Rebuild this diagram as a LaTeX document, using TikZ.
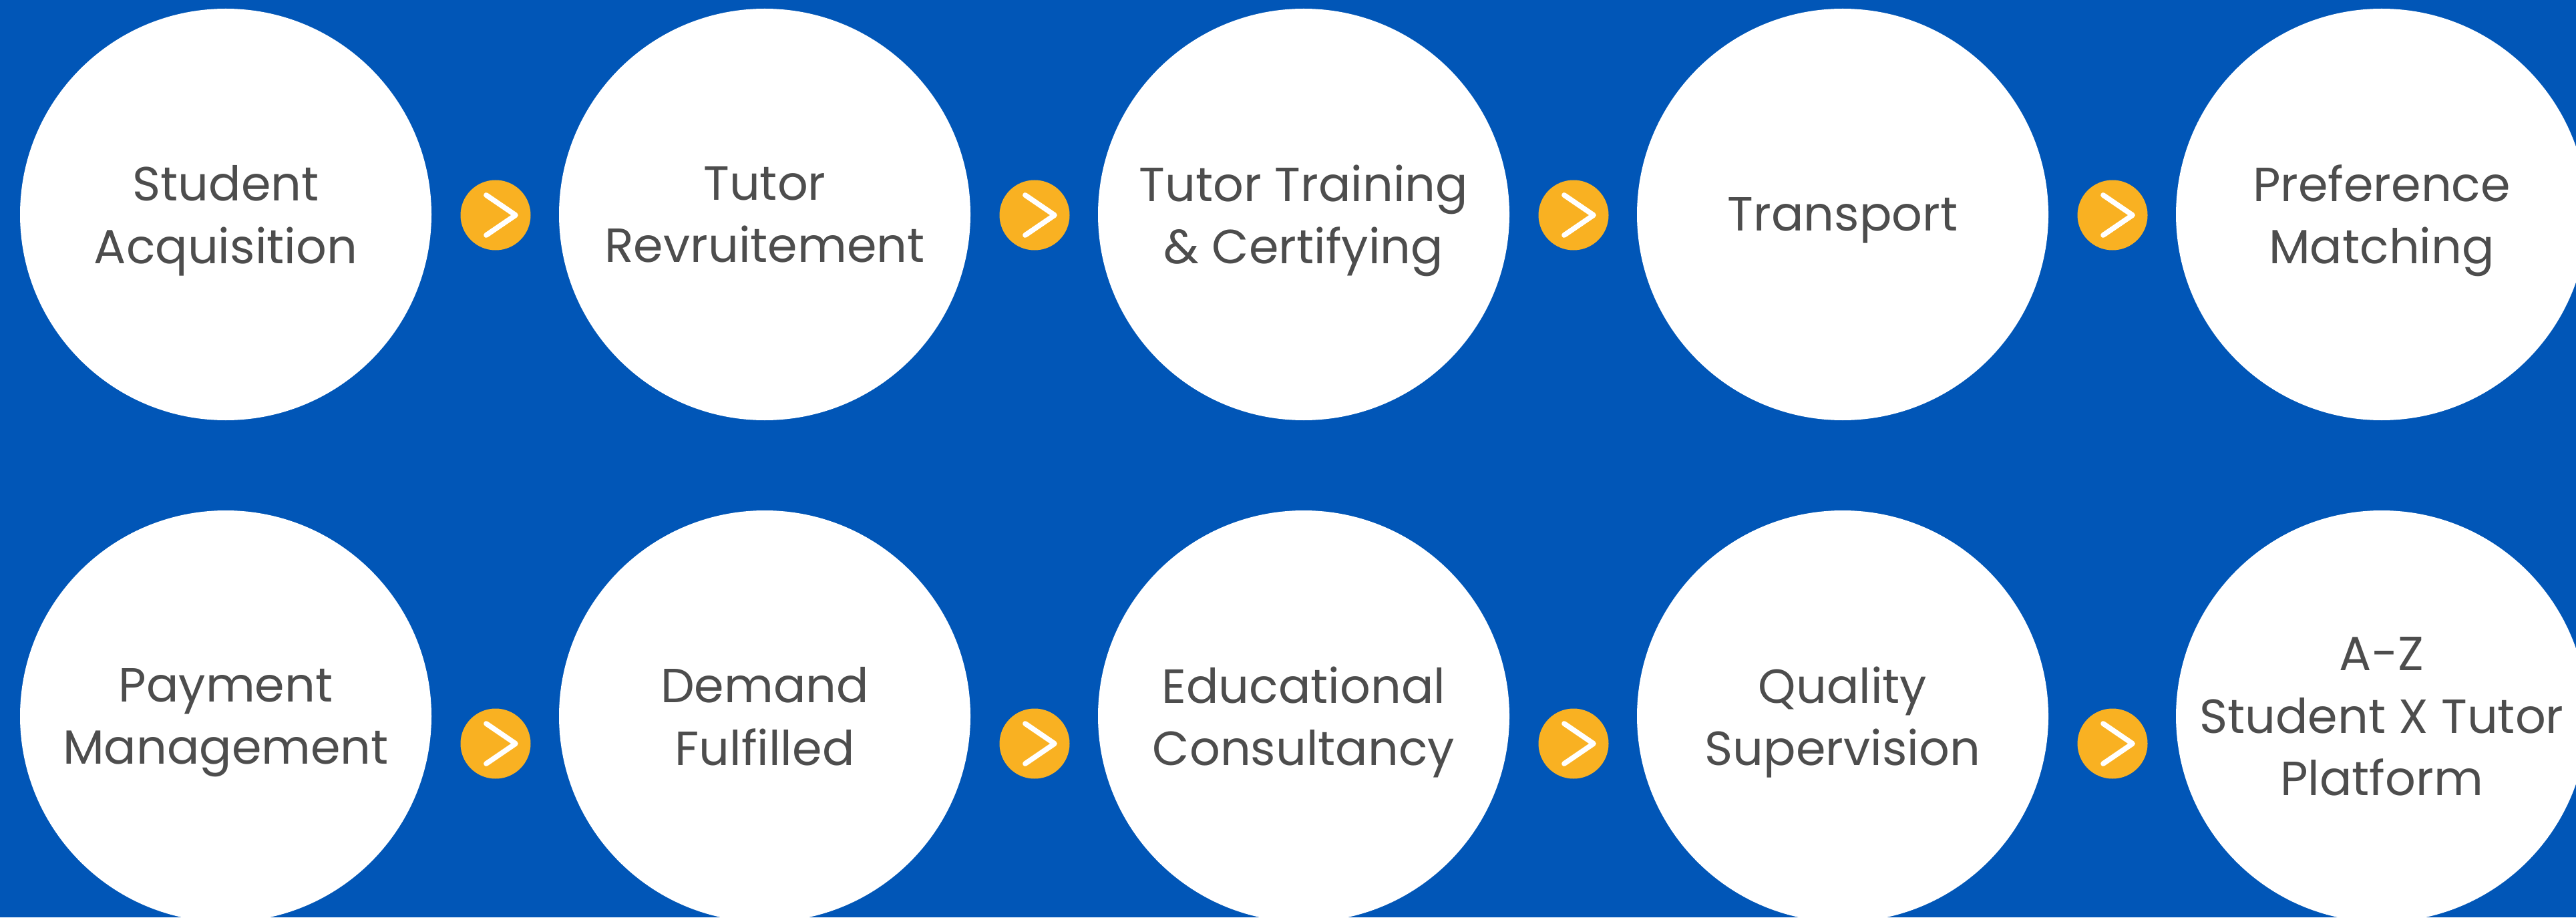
\documentclass[tikz,border=0pt]{standalone}
\usepackage{fontspec}
\setmainfont{Poppins}
\definecolor{bgblue}{HTML}{0156B7}
\definecolor{badgeorange}{HTML}{F9B122}
\definecolor{textgray}{HTML}{4D4D4D}

\begin{document}
\begin{tikzpicture}
\tikzstyle{stage}=[circle,fill=white,minimum size=6.16cm,inner sep=0pt,align=center,text=textgray,text depth=0pt,font=\fontsize{20.4}{26.5}\selectfont]
\tikzstyle{badge}=[circle,fill=badgeorange,minimum size=1.05cm,inner sep=0pt]
\tikzstyle{chevron}=[draw=white,line width=2.2pt,line cap=round,line join=round]
\def \rowA {10.52}
\def \rowB {3.01}
\def \chev #1{\path[chevron] ([shift={(-0.14,0.30)}]#1.center) -- ([shift={(0.30,0)}]#1.center) -- ([shift={(-0.14,-0.30)}]#1.center);}
\useasboundingbox (0,0) rectangle (38.57,13.73);
\clip (0,0) rectangle (38.57,13.73);
\fill[bgblue] (0,0) rectangle (38.57,13.73);
% first row
\node[stage] (s1) at (3.38,\rowA) {Student\\Acquisition};
\node[stage] (s2) at (11.45,\rowA) {Tutor\\Revruitement};
\node[stage] (s3) at (19.52,\rowA) {Tutor Training\\\& Certifying};
\node[stage] (s4) at (27.59,\rowA) {Transport};
\node[stage] (s5) at (35.66,\rowA) {Preference\\Matching};
% second row
\node[stage] (s6) at (3.38,\rowB) {Payment\\Management};
\node[stage] (s7) at (11.45,\rowB) {Demand\\Fulfilled};
\node[stage] (s8) at (19.52,\rowB) {Educational\\Consultancy};
\node[stage] (s9) at (27.59,\rowB) {Quality\\Supervision};
\node[stage] (s10) at (35.66,\rowB) {A-Z\\Student X Tutor\\Platform};
% badges
\node[badge] (b1) at (7.42,10.51) {};
\node[badge] (b2) at (15.49,10.51) {};
\node[badge] (b3) at (23.56,10.51) {};
\node[badge] (b4) at (31.63,10.51) {};
\node[badge] (b5) at (7.42,2.60) {};
\node[badge] (b6) at (15.49,2.60) {};
\node[badge] (b7) at (23.56,2.60) {};
\node[badge] (b8) at (31.63,2.60) {};
\chev{b1} \chev{b2} \chev{b3} \chev{b4}
\chev{b5} \chev{b6} \chev{b7} \chev{b8}
\end{tikzpicture}
\end{document}
